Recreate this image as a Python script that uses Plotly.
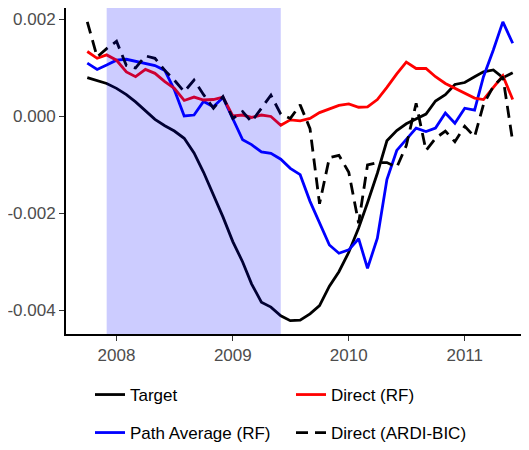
import plotly.graph_objects as go
import pandas as pd

dates = [d.strftime("%Y-%m-%d") for d in pd.date_range("2007-10-01", "2011-06-01", freq="MS")]

target = [0.80, 0.74, 0.68, 0.58, 0.45, 0.30, 0.12, -0.06, -0.19, -0.30, -0.45, -0.75,
          -1.15, -1.62, -2.07, -2.58, -3.00, -3.45, -3.83, -3.93, -4.11, -4.21, -4.20, -4.07,
          -3.90, -3.50, -3.20, -2.80, -2.30, -1.78, -1.17, -0.50, -0.29, -0.15, -0.05, 0.05,
          0.32, 0.45, 0.66, 0.70, 0.82, 0.92, 0.96, 0.80, 0.90]
path_avg = [1.10, 0.97, 1.06, 1.16, 1.18, 1.14, 1.10, 1.05, 0.95, 0.55, 0.01, 0.03,
            0.31, 0.20, 0.39, -0.05, -0.48, -0.58, -0.73, -0.76, -0.88, -1.07, -1.20, -1.75,
            -2.20, -2.65, -2.82, -2.75, -2.52, -3.13, -2.51, -1.30, -0.70, -0.48, -0.24, -0.31,
            -0.24, 0.07, -0.14, 0.17, 0.13, 0.82, 1.37, 1.95, 1.51]
direct_rf = [1.34, 1.20, 1.27, 1.16, 0.92, 0.82, 0.97, 0.89, 0.72, 0.58, 0.33, 0.40,
             0.34, 0.35, 0.40, 0.01, 0.03, -0.02, 0.03, 0.00, -0.18, -0.07, -0.09, -0.04,
             0.08, 0.16, 0.23, 0.26, 0.19, 0.20, 0.35, 0.60, 0.88, 1.12, 0.99, 0.99,
             0.82, 0.68, 0.58, 0.48, 0.38, 0.35, 0.61, 0.84, 0.35]
direct_ardi = [1.95, 1.23, 1.40, 1.55, 1.05, 1.00, 1.25, 1.20, 0.95, 0.75, 0.51, 0.75,
               0.45, 0.17, 0.41, -0.04, 0.10, -0.11, 0.17, 0.44, 0.05, -0.04, 0.24, -0.25,
               -1.80, -0.85, -0.80, -1.15, -2.20, -1.00, -0.95, -0.95, -1.05, -0.60, 0.27, -0.70,
               -0.45, -0.30, -0.52, -0.20, -0.42, 0.25, 0.62, 0.82, -0.52]
scale = 1e-3

recession = ["2007-12-01", "2009-06-01"]

ytick_vals = [0.002, 0.0, -0.002, -0.004]
ytick_text = ["0.002", "0.000", "-0.002", "-0.004"]

FONT = "Liberation Sans, Arial, Helvetica, sans-serif"

L, R, T, B = 58, 3, 0, 124
PW = 529 - L - R
PH = 450 - T - B

fig = go.Figure()
series = [
    ("Target", target, "#000000", "solid", "legend"),
    ("Path Average (RF)", path_avg, "#0000FF", "solid", "legend2"),
    ("Direct (RF)", direct_rf, "#FF0000", "solid", "legend"),
    ("Direct (ARDI-BIC)", direct_ardi, "#000000", "12px,7px", "legend2"),
]
for name, vals, color, dash, lg in series:
    fig.add_trace(go.Scatter(
        x=dates, y=[v * scale for v in vals], mode="lines", name=name,
        line=dict(color=color, width=2.8, dash=dash), legend=lg))

fig.add_shape(type="rect", xref="x", yref="paper", x0=recession[0], x1=recession[1],
              y0=0, y1=1, fillcolor="rgba(0,0,255,0.2)", line=dict(width=0), layer="above")

fig.update_layout(
    width=529, height=450,
    margin=dict(l=L, r=R, t=T, b=B, autoexpand=False),
    paper_bgcolor="white", plot_bgcolor="white",
    font=dict(family=FONT, size=17, color="#000000"),
    xaxis=dict(
        type="date", range=["2007-07-26", "2011-08-07"], automargin=False,
        tick0="2008-01-01", dtick="M12", tickformat="%Y",
        showgrid=False, zeroline=False, showline=True, linecolor="#000000", linewidth=2,
        mirror=True, ticks="outside", ticklen=5, tickcolor="#333333", tickwidth=1.2,
        tickfont=dict(family=FONT, size=17, color="#4d4d4d"),
    ),
    yaxis=dict(
        range=[-0.004485, 0.002237], automargin=False,
        tickvals=ytick_vals, ticktext=ytick_text,
        showgrid=False, zeroline=False, showline=True, linecolor="#000000", linewidth=2,
        ticks="outside", ticklen=5, tickcolor="#333333", tickwidth=1.2,
        tickfont=dict(family=FONT, size=17, color="#4d4d4d"),
    ),
    legend=dict(orientation="h", x=(82 - L) / PW, xanchor="left",
                y=-(387 - (T + PH)) / PH, yanchor="middle",
                entrywidth=156, entrywidthmode="pixels",
                font=dict(family=FONT, size=17, color="#000000"), bgcolor="rgba(0,0,0,0)"),
    legend2=dict(orientation="h", x=(82 - L) / PW, xanchor="left",
                 y=-(425 - (T + PH)) / PH, yanchor="middle",
                 entrywidth=156, entrywidthmode="pixels",
                 font=dict(family=FONT, size=17, color="#000000"), bgcolor="rgba(0,0,0,0)"),
    showlegend=True,
)

fig.write_html("out.html")
